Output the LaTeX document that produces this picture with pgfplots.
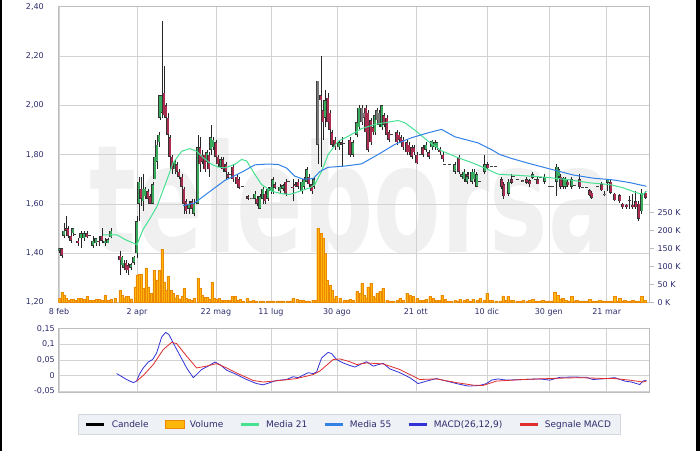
\documentclass[border=0pt]{standalone}
\usepackage{fontspec}
\setmainfont{DejaVu Sans}
\usepackage{pgfplots}
\pgfplotsset{compat=1.18}
\usepackage{pgfplotstable}

\definecolor{lbl}{RGB}{45,45,110}
\definecolor{gridc}{RGB}{210,210,210}
\definecolor{framec}{RGB}{190,190,190}
\definecolor{upc}{RGB}{58,170,92}
\definecolor{dnc}{RGB}{170,45,80}
\definecolor{ntc}{RGB}{120,120,120}
\definecolor{ma21}{RGB}{70,225,145}
\definecolor{ma55}{RGB}{50,130,230}
\definecolor{macdc}{RGB}{50,50,215}
\definecolor{sigc}{RGB}{225,45,45}
\definecolor{volf}{RGB}{255,182,10}
\definecolor{vold}{RGB}{235,135,0}
\definecolor{legf}{RGB}{238,241,245}
\definecolor{legd}{RGB}{212,215,222}

% wicks: low/high of every candle
\pgfplotstableread{
x l h
59 1.40 1.42
62 1.38 1.42
64 1.46 1.52
66 1.47 1.55
68 1.46 1.51
71 1.44 1.48
73 1.47 1.50
78 1.43 1.46
81 1.42 1.49
84 1.45 1.49
87 1.46 1.49
93 1.42 1.47
96 1.43 1.46
99 1.43 1.47
102 1.44 1.50
105 1.43 1.46
108 1.44 1.46
111 1.46 1.50
120 1.31 1.41
122 1.34 1.39
124 1.33 1.37
126 1.32 1.37
128 1.31 1.36
131 1.33 1.36
134 1.35 1.39
137 1.38 1.55
139 1.53 1.71
141 1.59 1.71
143 1.57 1.72
145 1.62 1.67
148 1.61 1.66
150 1.60 1.64
153 1.60 1.69
155 1.70 1.86
157 1.74 1.88
159 1.83 1.89
160 1.94 2.04
162 1.95 2.34
164 1.95 2.16
166 1.94 2.01
168 1.87 1.97
170 1.78 1.88
172 1.72 1.80
175 1.72 1.78
177 1.72 1.77
179 1.70 1.74
182 1.66 1.72
184 1.56 1.67
186 1.56 1.62
189 1.56 1.61
192 1.58 1.62
194 1.55 1.62
198 1.60 1.88
200 1.73 1.87
202 1.76 1.82
205 1.73 1.81
207 1.76 1.82
209 1.71 1.81
211 1.80 1.92
213 1.82 1.87
216 1.78 1.86
218 1.75 1.80
221 1.74 1.79
223 1.73 1.79
226 1.70 1.77
228 1.70 1.73
233 1.69 1.76
237 1.67 1.72
239 1.66 1.71
248 1.615 1.635
255 1.61 1.65
257 1.59 1.63
260 1.58 1.64
263 1.60 1.67
265 1.60 1.65
268 1.61 1.67
271 1.64 1.68
273 1.64 1.71
275 1.66 1.69
280 1.64 1.68
283 1.65 1.68
286 1.63 1.70
293 1.61 1.70
295 1.67 1.69
298 1.66 1.70
302 1.64 1.70
304 1.66 1.71
307 1.68 1.75
309 1.67 1.72
312 1.64 1.69
314 1.66 1.71
318 1.76 2.10
321 1.75 2.20
323 1.86 2.00
325 1.91 2.06
328 1.90 2.05
330 1.89 1.98
332 1.83 1.90
335 1.82 1.87
339 1.82 1.86
342 1.75 1.87
350 1.79 1.87
353 1.79 1.86
357 1.87 1.94
359 1.90 2.00
362 1.92 2.00
364 1.95 1.99
366 1.88 2.00
368 1.81 1.98
371 1.84 1.95
373 1.88 1.92
375 1.88 1.97
377 1.93 1.99
379 1.91 1.98
382 1.90 2.00
384 1.91 1.97
387 1.87 1.96
389 1.85 1.90
397 1.84 1.90
399 1.85 1.89
401 1.84 1.88
403 1.82 1.87
407 1.80 1.86
409 1.80 1.85
412 1.78 1.84
414 1.80 1.84
417 1.76 1.81
423 1.79 1.84
426 1.81 1.85
429 1.78 1.82
432 1.82 1.86
435 1.82 1.86
437 1.82 1.85
440 1.80 1.83
443 1.77 1.81
455 1.72 1.77
459 1.72 1.80
462 1.71 1.73
464 1.69 1.74
467 1.68 1.73
468 1.70 1.73
472 1.68 1.74
474 1.69 1.74
477 1.67 1.73
485 1.72 1.80
488 1.74 1.77
502 1.66 1.71
504 1.62 1.69
509 1.63 1.70
512 1.68 1.72
527 1.68 1.71
530 1.67 1.70
533 1.70 1.73
538 1.68 1.71
545 1.68 1.72
557 1.63 1.76
559 1.70 1.75
561 1.66 1.72
564 1.66 1.71
566 1.66 1.71
568 1.67 1.70
572 1.66 1.71
580 1.66 1.72
590 1.63 1.66
592 1.62 1.65
602 1.65 1.69
605 1.63 1.65
608 1.65 1.70
611 1.64 1.70
615 1.61 1.645
620 1.605 1.64
623 1.58 1.605
627 1.58 1.60
630 1.58 1.63
633 1.58 1.64
636 1.58 1.65
639 1.53 1.61
642 1.56 1.66
646 1.62 1.65
}\wicks

% bodies of rising candles (open -> close)
\pgfplotstableread{
x lo hi
59 1.41 1.42
64 1.47 1.49
73 1.48 1.50
81 1.46 1.48
84 1.46 1.48
93 1.43 1.45
96 1.44 1.46
105 1.44 1.45
108 1.44 1.455
111 1.465 1.49
122 1.35 1.385
124 1.34 1.36
131 1.34 1.355
134 1.36 1.385
137 1.40 1.53
139 1.60 1.69
143 1.61 1.66
145 1.63 1.66
153 1.60 1.68
155 1.70 1.79
157 1.77 1.84
159 1.85 1.88
160 1.95 2.04
162 1.97 2.04
175 1.74 1.77
189 1.58 1.60
194 1.56 1.60
198 1.60 1.83
207 1.77 1.81
211 1.82 1.87
213 1.83 1.86
221 1.75 1.78
255 1.62 1.64
260 1.58 1.63
263 1.62 1.66
268 1.62 1.66
271 1.65 1.67
273 1.65 1.70
280 1.65 1.67
283 1.66 1.675
302 1.65 1.69
304 1.67 1.70
307 1.69 1.74
314 1.67 1.70
325 1.95 2.02
339 1.83 1.85
353 1.80 1.85
357 1.88 1.93
359 1.91 1.99
375 1.89 1.96
382 1.91 2.00
426 1.82 1.84
432 1.83 1.855
435 1.83 1.85
437 1.83 1.85
455 1.73 1.76
462 1.71 1.72
464 1.70 1.73
467 1.69 1.72
472 1.69 1.73
474 1.70 1.73
477 1.67 1.72
485 1.73 1.76
509 1.64 1.69
533 1.705 1.72
545 1.69 1.71
557 1.69 1.75
559 1.71 1.74
564 1.67 1.705
566 1.67 1.70
572 1.67 1.70
608 1.685 1.70
642 1.57 1.645
}\upc

% bodies of falling candles
\pgfplotstableread{
x lo hi
62 1.39 1.42
66 1.49 1.50
68 1.47 1.50
71 1.45 1.47
78 1.44 1.45
87 1.465 1.48
99 1.445 1.45
102 1.45 1.47
120 1.37 1.39
126 1.33 1.36
128 1.33 1.35
141 1.62 1.66
148 1.62 1.65
150 1.60 1.63
164 1.96 2.05
166 1.95 2.00
168 1.88 1.95
170 1.79 1.87
172 1.74 1.79
177 1.73 1.76
179 1.71 1.73
182 1.67 1.71
184 1.60 1.66
186 1.57 1.61
192 1.58 1.61
200 1.76 1.83
202 1.77 1.80
205 1.74 1.80
209 1.74 1.80
216 1.79 1.85
218 1.76 1.79
223 1.74 1.78
226 1.73 1.76
228 1.705 1.72
233 1.70 1.75
237 1.68 1.71
239 1.665 1.70
248 1.62 1.63
257 1.60 1.62
265 1.61 1.64
275 1.665 1.68
286 1.64 1.69
293 1.665 1.67
295 1.675 1.68
298 1.67 1.69
309 1.68 1.71
312 1.65 1.68
321 2.02 2.04
323 1.93 1.98
328 1.93 2.03
330 1.90 1.97
332 1.84 1.89
335 1.83 1.86
342 1.84 1.85
350 1.80 1.86
366 1.89 1.99
368 1.82 1.97
371 1.85 1.94
373 1.89 1.91
384 1.92 1.96
387 1.88 1.95
389 1.86 1.89
397 1.85 1.89
399 1.86 1.88
401 1.85 1.87
403 1.83 1.86
407 1.81 1.85
409 1.81 1.84
412 1.79 1.83
414 1.81 1.83
417 1.765 1.80
423 1.80 1.83
429 1.79 1.81
440 1.81 1.82
443 1.78 1.80
459 1.73 1.79
468 1.71 1.72
488 1.745 1.76
502 1.67 1.70
504 1.63 1.68
512 1.685 1.70
527 1.685 1.70
530 1.68 1.695
538 1.68 1.70
561 1.67 1.71
568 1.675 1.69
580 1.67 1.70
590 1.635 1.655
592 1.625 1.645
602 1.655 1.68
611 1.645 1.69
615 1.615 1.64
620 1.61 1.635
623 1.585 1.60
627 1.585 1.595
633 1.585 1.595
636 1.585 1.61
639 1.54 1.60
646 1.625 1.645
}\dnc

% unchanged days and flat trades
\pgfplotstableread{
x lo hi
75 1.474 1.478
90 1.468 1.472
230 1.718 1.722
243 1.668 1.672
252 1.618 1.625
289 1.688 1.692
318 1.84 2.10
344 1.843 1.847
362 1.93 1.99
364 1.95 1.97
377 1.94 1.98
379 1.92 1.97
392 1.878 1.882
421 1.798 1.802
445 1.758 1.762
450 1.758 1.762
480 1.688 1.692
492 1.748 1.752
496 1.748 1.752
514 1.708 1.712
518 1.698 1.702
523 1.690 1.695
536 1.698 1.702
541 1.703 1.707
550 1.668 1.672
553 1.668 1.672
575 1.673 1.677
583 1.663 1.667
587 1.663 1.667
598 1.668 1.672
605 1.635 1.640
630 1.613 1.617
}\ntc

% volume, thousands
\pgfplotstableread{
x v
59 11
62 28
64 20
66 11
68 6
71 9
73 9
75 5
78 11
81 11
84 8
87 16
90 5
93 6
96 9
99 9
102 6
105 20
108 6
111 8
115 11
120 34
122 20
124 12
126 16
128 16
131 10
135 43
137 76
139 78
141 78
143 40
146 94
148 43
151 25
154 89
157 62
159 88
162 147
164 57
166 34
168 73
171 34
173 25
175 12
177 20
179 10
182 16
184 39
186 11
189 8
191 6
194 11
198 66
200 39
202 20
205 13
207 13
209 10
212 55
214 11
216 8
219 11
221 6
224 6
226 5
229 5
232 16
235 16
238 5
240 8
243 4
247 11
250 4
253 5
256 4
260 4
263 4
267 4
270 4
273 4
277 4
280 4
283 4
287 4
290 4
293 11
297 9
300 6
303 6
306 4
309 4
313 6
316 5
318 205
321 191
323 177
325 136
327 62
330 48
332 34
334 10
336 16
340 11
344 5
347 5
350 8
353 5
357 30
360 25
362 53
364 20
366 11
368 43
371 53
373 16
375 12
377 25
380 30
383 39
387 6
390 4
393 4
397 5
400 11
403 5
407 25
410 20
413 16
417 11
420 5
423 5
426 8
430 16
433 11
436 5
439 5
442 20
445 8
448 4
451 4
455 5
458 4
460 9
464 5
467 9
470 4
473 9
477 5
480 11
484 5
487 25
490 5
492 6
496 4
500 4
503 18
506 5
508 16
510 5
513 6
517 4
520 4
523 5
527 4
530 5
533 9
536 4
540 4
543 6
546 4
549 4
552 4
555 27
558 20
561 8
563 11
566 5
569 4
572 16
575 4
577 6
581 4
584 4
587 4
590 8
593 4
596 4
600 6
603 4
606 4
609 4
612 4
615 16
618 4
620 11
623 4
625 6
628 4
631 4
633 6
636 4
639 4
642 16
645 6
}\vol

\pgfplotsset{
  chart/.style={
    scale only axis, width=590.7pt, anchor=south west,
    xmin=58.3, xmax=649.3,
    axis line style={framec},
    tick style={draw=none},
    ticklabel style={font=\fontsize{8}{9}\selectfont, text=lbl},
    /pgf/number format/assume math mode=true,
    grid style={gridc, line width=0.5pt},
  },
  candle/.style={draw=none, mark=none,
    error bars/.cd, y dir=plus, y explicit, error mark=none,
    error bar style={#1}},
}

\begin{document}
\begin{tikzpicture}
\useasboundingbox (0pt,0pt) rectangle (700pt,451pt);
\fill[white] (0pt,0pt) rectangle (700pt,451pt);
\fill[black] (0pt,0pt) rectangle (1.8pt,451pt);
\fill[black] (696pt,0pt) rectangle (700pt,451pt);
\node[anchor=base, text=black!6, font=\fontsize{150}{150}\selectfont\bfseries, xscale=0.655] at (352pt,199pt) {teleborsa};

% grid and labels of the price panel
\begin{axis}[chart, at={(58.3pt,148.7pt)}, height=295.6pt,
  ymin=1.2, ymax=2.4, ytick={1.2,1.4,1.6,1.8,2.0,2.2,2.4},
  yticklabel style={xshift=-11pt, /pgf/number format/.cd, fixed, fixed zerofill, precision=2, use comma},
  xtick={59,137,216,271,337,416,487,549,607},
  xticklabels={8 feb,2 apr,22 mag,11 lug,30 ago,21 ott,10 dic,30 gen,21 mar},
  xticklabel style={yshift=-3pt},
  grid=major]
\addplot[draw=none] coordinates {(59,1.2)};
\end{axis}

% volume
\begin{axis}[chart, at={(58.3pt,148.7pt)}, height=295.6pt,
  ymin=0, ymax=821, axis x line=none, axis y line*=right,
  ytick={0,50,100,150,200,250},
  yticklabels={0 K,50 K,100 K,150 K,200 K,250 K},
  ytick style={draw=framec, line width=0.5pt}, tick align=outside,
  major tick length=5pt]
\addplot[ybar, bar width=2.3, bar shift=0pt, fill=volf, draw=vold, line width=0.25pt]
  table[x=x, y=v] {\vol};
\end{axis}

% candles and moving averages
\begin{axis}[chart, at={(58.3pt,148.7pt)}, height=295.6pt,
  ymin=1.2, ymax=2.4, hide axis]
\addplot[candle={draw=black!85, line width=0.6pt}]
  table[x=x, y=l, y error plus expr=\thisrow{h}-\thisrow{l}] {\wicks};
\addplot[candle={draw=black!80, line width=3pt}]
  table[x=x, y=lo, y error plus expr=\thisrow{hi}-\thisrow{lo}] {\upc};
\addplot[candle={draw=upc, line width=2pt}]
  table[x=x, y expr=\thisrow{lo}+0.002, y error plus expr={max(\thisrow{hi}-\thisrow{lo}-0.004,0)}] {\upc};
\addplot[candle={draw=black!80, line width=3pt}]
  table[x=x, y=lo, y error plus expr=\thisrow{hi}-\thisrow{lo}] {\dnc};
\addplot[candle={draw=dnc, line width=2pt}]
  table[x=x, y expr=\thisrow{lo}+0.002, y error plus expr={max(\thisrow{hi}-\thisrow{lo}-0.004,0)}] {\dnc};
\addplot[candle={draw=black!75, line width=3pt}]
  table[x=x, y=lo, y error plus expr=\thisrow{hi}-\thisrow{lo}] {\ntc};
\addplot[candle={draw=ntc, line width=2pt}]
  table[x=x, y expr=\thisrow{lo}+0.002, y error plus expr={max(\thisrow{hi}-\thisrow{lo}-0.004,0)}] {\ntc};
% Media 21
\addplot[ma21, line width=1pt, line join=round] coordinates {
(103,1.474)(117,1.474)(125,1.455)(137,1.434)(143,1.495)(150,1.54)(157,1.589)
(167,1.697)(173,1.765)(181.7,1.813)(190,1.824)(196.7,1.813)(203.3,1.787)
(211.7,1.76)(218.3,1.749)(225,1.746)(235,1.76)(241.7,1.78)(246.7,1.774)
(255,1.719)(261.7,1.678)(271.7,1.651)(281.7,1.641)(290,1.638)(300,1.651)
(310,1.665)(315,1.678)(321.7,1.732)(328.3,1.80)(338.3,1.854)(348.3,1.874)
(361.7,1.905)(375,1.922)(385,1.929)(398.3,1.938)(405,1.929)(415,1.899)
(428.3,1.854)(441.7,1.815)(458.3,1.787)(473.3,1.765)(486.7,1.742)(498.3,1.72)
(515,1.716)(531.7,1.712)(550,1.706)(570,1.697)(590,1.685)(610,1.678)
(623.3,1.665)(636.7,1.645)(643.3,1.638)(646.7,1.651)};
% Media 55
\addplot[ma55, line width=1pt, line join=round] coordinates {
(183.3,1.592)(195,1.604)(208.3,1.645)(225,1.695)(241.7,1.728)(255,1.758)
(266.7,1.761)(278,1.760)(286.7,1.745)(295,1.712)(303.3,1.700)(313.3,1.702)
(320,1.731)(328.3,1.748)(345,1.753)(361.7,1.762)(378.3,1.80)(395,1.841)
(411.7,1.868)(428.3,1.888)(441.7,1.902)(455,1.872)(478.3,1.847)(491.7,1.82)
(500,1.80)(511.7,1.784)(531.7,1.761)(553.3,1.738)(573.3,1.717)(593.3,1.704)
(613.3,1.697)(630,1.686)(646.7,1.671)};
\end{axis}

% MACD panel with the legend
\begin{axis}[chart, at={(58.3pt,59pt)}, height=64pt,
  ymin=-0.053, ymax=0.152, ytick={-0.05,0,0.05,0.1,0.15},
  yticklabel style={/pgf/number format/.cd, fixed, precision=2, use comma},
  xtick={59,137,216,271,337,416,487,549,607}, xticklabels={},
  grid=major,
  legend columns=6,
  legend image code/.code={\draw[#1, line width=2.6pt] (0pt,0pt) -- (18pt,0pt);},
  legend style={at={(0.0333,-0.508)}, anchor=west, fill=legf, draw=legd,
    font=\fontsize{9}{10}\selectfont, text=lbl,
    inner xsep=7pt, inner ysep=4pt,
    /tikz/every odd column/.append style={column sep=4pt},
    /tikz/every even column/.append style={column sep=14pt}}]
\addlegendimage{black}
\addlegendentry{Candele}
\addlegendimage{legend image code/.code={\draw[fill=volf, draw=vold] (0pt,-4pt) rectangle (19pt,4pt);}}
\addlegendentry{Volume}
\addlegendimage{ma21}
\addlegendentry{Media 21}
\addlegendimage{ma55}
\addlegendentry{Media 55}
\addplot[macdc, line width=0.8pt, line join=round] coordinates {
(116.7,0.006)(126.7,-0.013)(133.3,-0.023)(136.7,-0.018)(139.3,0.003)(143.3,0.024)
(148.3,0.043)(152.7,0.051)(156.7,0.072)(161.7,0.123)(165.7,0.138)(169,0.131)
(173.3,0.104)(180,0.064)(186.7,0.024)(193.3,-0.007)(196.7,0.003)(201.7,0.019)
(208.3,0.03)(215,0.043)(220,0.035)(226.7,0.017)(236.7,0.003)(246.7,-0.013)
(256.7,-0.026)(263.3,-0.03)(270,-0.023)(276.7,-0.016)(286.7,-0.013)(293.3,-0.004)
(298.3,-0.007)(308.3,0.009)(313.3,0.006)(316.7,0.011)(321.7,0.056)(328.3,0.074)
(331.7,0.07)(336.7,0.051)(343.3,0.04)(350,0.032)(355,0.027)(360,0.035)
(366.7,0.044)(373.3,0.03)(383.3,0.039)(390,0.021)(400,0.009)(410,-0.007)
(418.3,-0.026)(426.7,-0.018)(436.7,-0.01)(446.7,-0.018)(456.7,-0.026)(468.3,-0.034)
(480,-0.032)(486.7,-0.026)(491.7,-0.015)(498.3,-0.011)(506.7,-0.015)(523.3,-0.013)
(540,-0.011)(550,-0.015)(560,-0.006)(573.3,-0.005)(586.7,-0.006)(593.3,-0.013)
(606.7,-0.01)(615,-0.007)(625,-0.018)(631.7,-0.021)(640,-0.029)(643.3,-0.018)
(646.7,-0.015)};
\addlegendentry{MACD(26,12,9)}
\addplot[sigc, line width=0.8pt, line join=round] coordinates {
(136.7,-0.018)(143.3,0.0)(153.3,0.035)(163.3,0.083)(171.7,0.106)(176.7,0.102)
(186.7,0.062)(196.7,0.024)(206.7,0.03)(216.7,0.038)(226.7,0.024)(240,0.003)
(253.3,-0.016)(263.3,-0.021)(280,-0.016)(296.7,-0.01)(313.3,0.003)(320,0.014)
(333.3,0.051)(340,0.053)(350,0.044)(356.7,0.035)(366.7,0.04)(383.3,0.037)
(400,0.019)(420,-0.013)(436.7,-0.011)(456.7,-0.023)(473.3,-0.031)(483.3,-0.032)
(496.7,-0.018)(523.3,-0.013)(540,-0.011)(556.7,-0.009)(580,-0.007)(606.7,-0.01)
(615,-0.01)(630,-0.015)(643.3,-0.021)(646.7,-0.018)};
\addlegendentry{Segnale MACD}
\end{axis}
\end{tikzpicture}
\end{document}
